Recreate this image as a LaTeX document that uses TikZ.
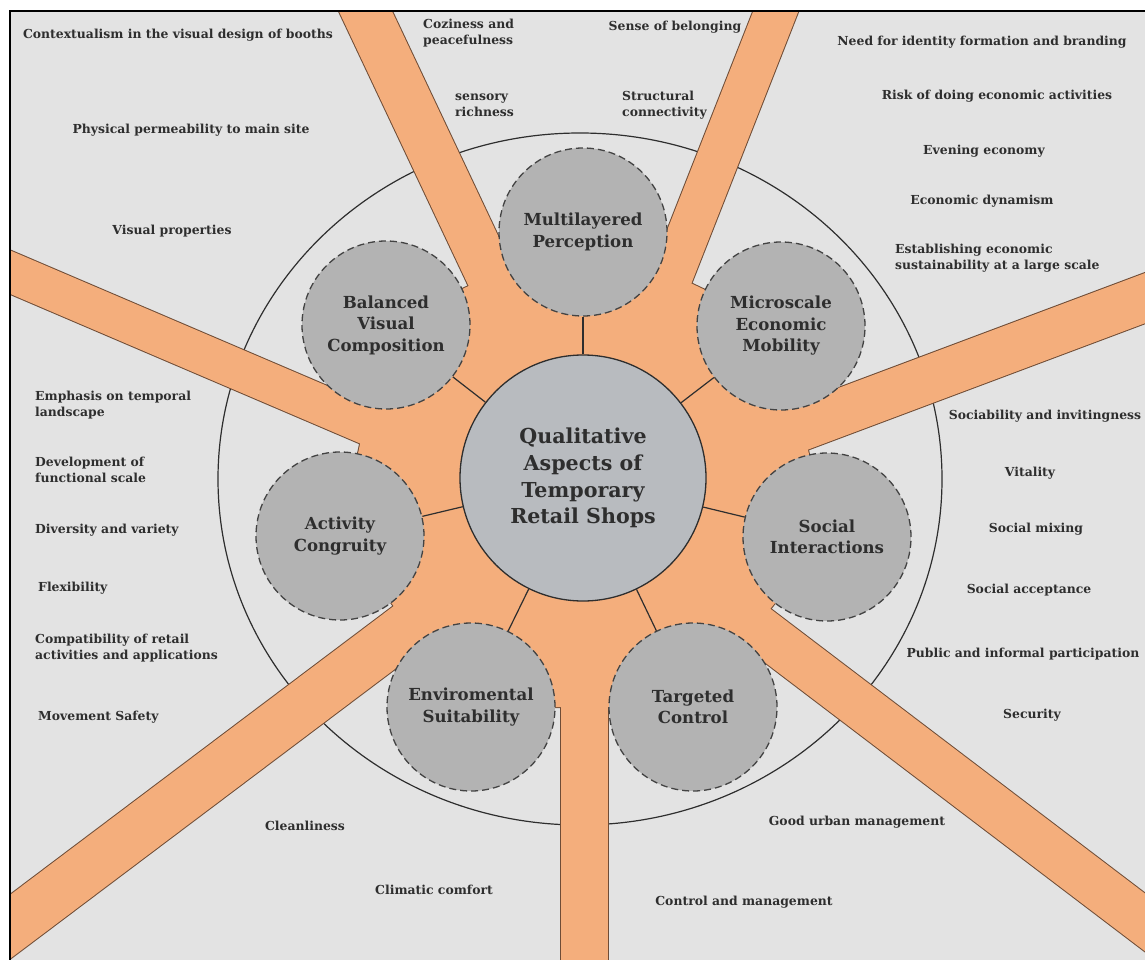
\documentclass[tikz,border=0pt]{standalone}
\usepackage{fontspec}
\setmainfont{DejaVu Serif}
\definecolor{road}{HTML}{F4AE7C}
\definecolor{roadedge}{HTML}{6E4C36}
\definecolor{ground}{HTML}{E3E3E3}
\definecolor{hubfill}{HTML}{B8BBBF}
\definecolor{aspectfill}{HTML}{B3B3B3}
\definecolor{ink}{HTML}{2E2E2E}
\tikzset{
  hub/.style={circle, draw=ink, line width=1.3pt, fill=hubfill, minimum size=246pt, inner sep=0pt, align=center, text=ink, font=\bfseries\fontsize{20.6}{26.7}\selectfont},
  aspect/.style={circle, draw=ink!90, line width=1.3pt, dash pattern=on 7pt off 4pt, fill=aspectfill, minimum size=168pt, inner sep=0pt, align=center, text=ink, font=\bfseries\fontsize{16.6}{21.5}\selectfont},
  item/.style={inner sep=0pt, text=ink, font=\bfseries\fontsize{12.4}{16}\selectfont},
  itemleft/.style={item, align=left, anchor=west},
}
\newcommand{\roadlist}{346/-30/549/400/48, 792/-30/623/400/42, -30/255/480/473/40, 1180/285/700/465/47, -30/957/480/573/51, 1180/949/680/569/46, 584/1000/584/480/47}
\newcommand{\hubzone}{(583,232) -- (781,326) -- (827,537) -- (693,707) -- (471,707) -- (340,536) -- (386,325) -- cycle}

\begin{document}
\begin{tikzpicture}[x=1pt, y=-1pt]
    \useasboundingbox (0,0) rectangle (1145,960);
    \fill[white] (0,0) rectangle (1145,960);
    \begin{scope}
        \clip (10,11) rectangle (1145,960);
        \fill[ground] (10,11) rectangle (1145,960);
        \draw[ink, line width=1.2pt] (580,479) ellipse [x radius=362, y radius=346];
        \filldraw[roadedge, line width=2pt, line join=round] \hubzone;
        \foreach \xa/\ya/\xb/\yb/\w in \roadlist {
            \pgfmathsetmacro{\ww}{\w+2}
            \draw[roadedge, line width=\ww pt] (\xa,\ya) -- (\xb,\yb);
        }
        \fill[road] \hubzone;
        \foreach \xa/\ya/\xb/\yb/\w in \roadlist
            \draw[road, line width=\w pt] (\xa,\ya) -- (\xb,\yb);
    \end{scope}
    \draw[black, line width=1.6pt] (10,965) -- (10,11) -- (1150,11);

    \node[hub] (0) at (583,478) {Qualitative\\Aspects of\\Temporary\\Retail Shops};
    \node[aspect] (1) at (583,232) {Multilayered\\Perception};
    \node[aspect] (2) at (781,326) {Microscale\\Economic\\Mobility};
    \node[aspect] (3) at (827,537) {Social\\Interactions};
    \node[aspect] (4) at (693,707) {Targeted\\Control};
    \node[aspect] (5) at (471,707) {Enviromental\\Suitability};
    \node[aspect] (6) at (340,536) {Activity\\Congruity};
    \node[aspect] (7) at (386,325) {Balanced\\Visual\\Composition};
    \foreach \i in {1,...,7}
        \draw[ink, line width=1.2pt] (0) -- (\i);

    \node[item] (tl1) at (178,35) {Contextualism in the visual design of booths};
    \node[item] (tl2) at (191,130) {Physical permeability to main site};
    \node[item] (tl3) at (172,231) {Visual properties};
    \node[itemleft] (tc1) at (423,33) {Coziness and\\peacefulness};
    \node[itemleft] (tc2) at (455,105) {sensory\\richness};
    \node[item] (tc3) at (675,27) {Sense of belonging};
    \node[itemleft] (tc4) at (622,105) {Structural\\connectivity};
    \node[item] (tr1) at (982,42) {Need for identity formation and branding};
    \node[item] (tr2) at (997,96) {Risk of doing economic activities};
    \node[item] (tr3) at (984,151) {Evening economy};
    \node[item] (tr4) at (982,201) {Economic dynamism};
    \node[itemleft] (tr5) at (895,258) {Establishing economic\\sustainability at a large scale};
    \node[itemleft] (l1) at (35,405) {Emphasis on temporal\\landscape};
    \node[itemleft] (l2) at (35,470) {Development of\\functional scale};
    \node[itemleft] (l3) at (35,530) {Diversity and variety};
    \node[itemleft] (l4) at (38,588) {Flexibility};
    \node[itemleft] (l5) at (35,648) {Compatibility of retail\\activities and applications};
    \node[itemleft] (l6) at (38,717) {Movement Safety};
    \node[item] (r1) at (1045,416) {Sociability and invitingness};
    \node[item] (r2) at (1030,473) {Vitality};
    \node[item] (r3) at (1036,529) {Social mixing};
    \node[item] (r4) at (1029,590) {Social acceptance};
    \node[item] (r5) at (1023,654) {Public and informal participation};
    \node[item] (r6) at (1032,715) {Security};
    \node[item] (b1) at (305,826) {Cleanliness};
    \node[item] (b2) at (434,890) {Climatic comfort};
    \node[item] (b3) at (857,822) {Good urban management};
    \node[item] (b4) at (744,902) {Control and management};
\end{tikzpicture}
\end{document}
